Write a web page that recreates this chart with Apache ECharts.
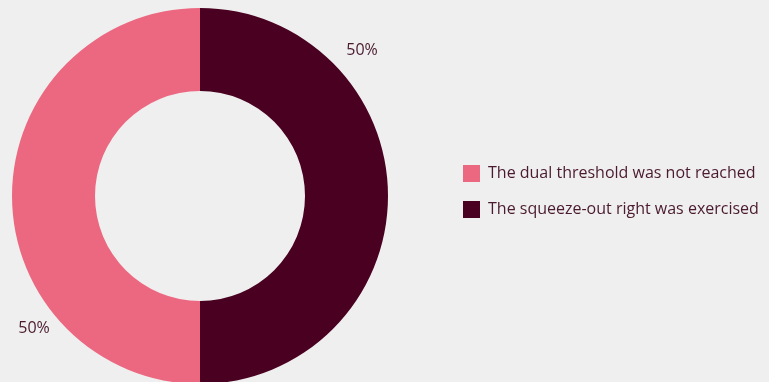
<!DOCTYPE html>
<html><head><meta charset="utf-8">
<script src="https://cdn.jsdelivr.net/npm/echarts@6/dist/echarts.min.js"></script>
<style>html,body{margin:0;padding:0;background:#efefef;}#c{width:769px;height:382px;}</style>
</head><body><div id="c"></div>
<script>
const categories = ["The squeeze-out right was exercised", "The dual threshold was not reached"];
const values = [50, 50];
const legendOrder = ["The dual threshold was not reached", "The squeeze-out right was exercised"];
const colors = ["#4a0020", "#ec6881"];
const labelAngles = [48, 231.5];
const labelRadii = [218, 212];

const cx = 200, cy = 196, rIn = 105, rOut = 188;
const chart = echarts.init(document.getElementById('c'));
chart.setOption({
  backgroundColor: '#efefef',
  animation: false,
  legend: {
    orient: 'vertical', left: 458, top: 160,
    itemWidth: 17, itemHeight: 17, itemGap: 19,
    icon: 'rect',
    data: legendOrder,
    textStyle: { color: '#4a1a2e', fontSize: 16, fontFamily: 'Open Sans', padding: [0, 0, 0, 3] }
  },
  series: [{
    type: 'pie',
    center: [cx, cy],
    radius: [rIn, rOut],
    startAngle: 90,
    clockwise: true,
    silent: true,
    avoidLabelOverlap: false,
    label: {
      show: true, position: 'inside', formatter: '{d}%',
      color: '#4a1a2e', fontSize: 16, fontFamily: 'Open Sans'
    },
    labelLine: { show: false },
    labelLayout: function (p) {
      const a = labelAngles[p.dataIndex] * Math.PI / 180;
      const r = labelRadii[p.dataIndex];
      return { x: cx + r * Math.sin(a), y: cy - r * Math.cos(a), align: 'center', verticalAlign: 'middle' };
    },
    data: categories.map((n, i) => ({ name: n, value: values[i], itemStyle: { color: colors[i] } }))
  }]
});
</script></body></html>
